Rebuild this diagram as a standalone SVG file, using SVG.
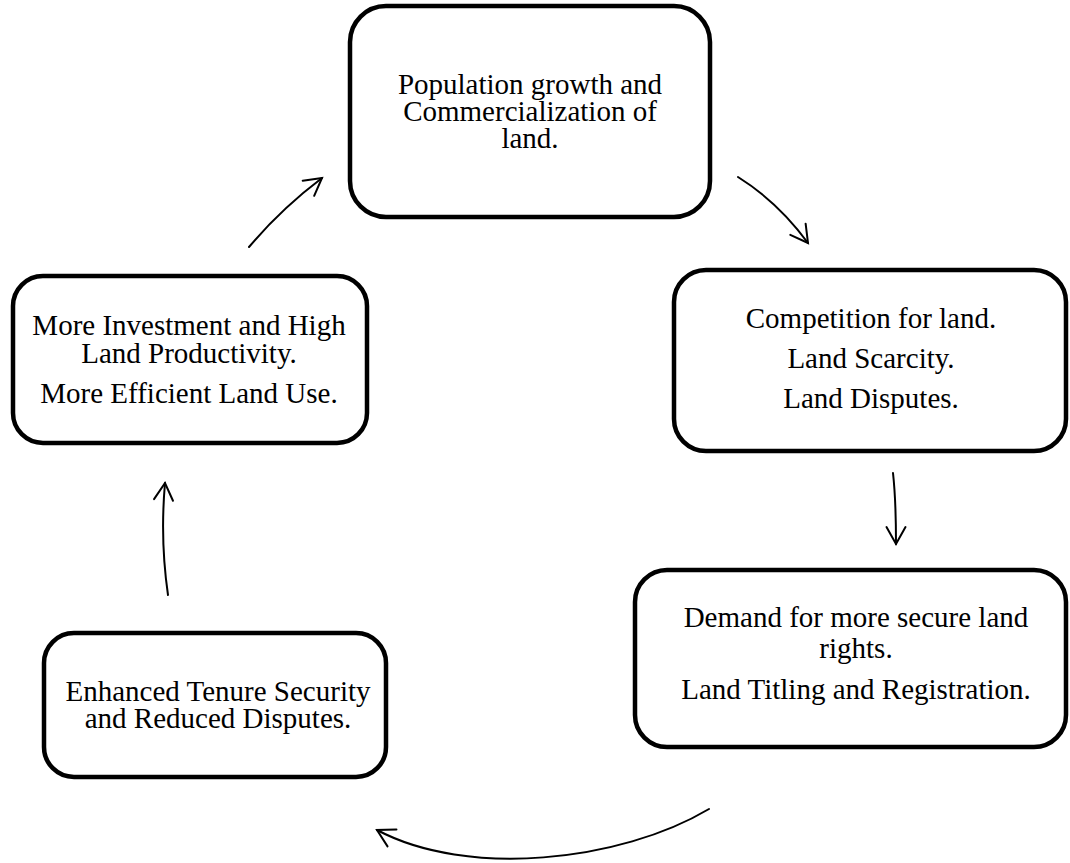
<svg xmlns="http://www.w3.org/2000/svg" width="1070" height="863" viewBox="0 0 1070 863">
  <style>
    .box { fill: #ffffff; stroke: #000000; stroke-width: 4.5; }
    .label { font-family: "Liberation Serif", "Times New Roman", serif; font-size: 29px; fill: #000000; text-anchor: middle; }
    .flow { fill: none; stroke: #000000; stroke-width: 2; stroke-linecap: round; }
  </style>
  <defs>
    <marker id="open-head" markerUnits="userSpaceOnUse" markerWidth="40" markerHeight="40" viewBox="-20 -20 40 40" refX="0" refY="0" orient="auto">
      <path d="M-17,-9.5 L0,0 L-17,9.5" fill="none" stroke="#000000" stroke-width="2" stroke-linecap="round" stroke-linejoin="miter"/>
    </marker>
  </defs>

  <rect width="1070" height="863" fill="#ffffff"/>

  <!-- cycle steps -->
  <g id="node-population">
    <rect class="box" x="350" y="6" width="360" height="211" rx="36" ry="36"/>
    <text class="label" x="530" y="94">Population growth and</text>
    <text class="label" x="530" y="121">Commercialization of</text>
    <text class="label" x="530" y="148">land.</text>
  </g>

  <g id="node-competition">
    <rect class="box" x="674" y="270" width="392" height="181" rx="32" ry="32"/>
    <text class="label" x="871" y="328">Competition for land.</text>
    <text class="label" x="871" y="368">Land Scarcity.</text>
    <text class="label" x="871" y="408">Land Disputes.</text>
  </g>

  <g id="node-demand">
    <rect class="box" x="635" y="570" width="431" height="177" rx="32" ry="32"/>
    <text class="label" x="856" y="627">Demand for more secure land</text>
    <text class="label" x="856" y="658">rights.</text>
    <text class="label" x="856" y="699">Land Titling and Registration.</text>
  </g>

  <g id="node-tenure">
    <rect class="box" x="44" y="633" width="342" height="144" rx="30" ry="30"/>
    <text class="label" x="218" y="701">Enhanced Tenure Security</text>
    <text class="label" x="218" y="728">and Reduced Disputes.</text>
  </g>

  <g id="node-investment">
    <rect class="box" x="13" y="276" width="354" height="167" rx="30" ry="30"/>
    <text class="label" x="189" y="335">More Investment and High</text>
    <text class="label" x="189" y="363">Land Productivity.</text>
    <text class="label" x="189" y="403">More Efficient Land Use.</text>
  </g>

  <!-- curved arrows linking the steps -->
  <g id="connectors">
    <path class="flow" d="M249,247 Q281,209 322,178" marker-end="url(#open-head)"/>
    <path class="flow" d="M738,177 Q778,202 808,243" marker-end="url(#open-head)"/>
    <path class="flow" d="M893,473 Q896,500 896,544" marker-end="url(#open-head)"/>
    <path class="flow" d="M709,809 C620,862 467,878 377,830" marker-end="url(#open-head)"/>
    <path class="flow" d="M168,595 Q160,540 165,483" marker-end="url(#open-head)"/>
  </g>
</svg>
